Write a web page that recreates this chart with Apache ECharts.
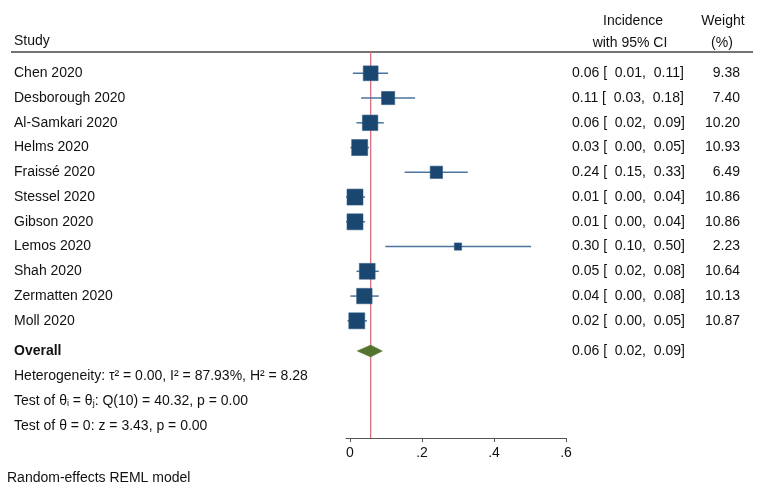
<!DOCTYPE html>
<html><head><meta charset="utf-8">
<script src="https://cdn.jsdelivr.net/npm/echarts@6/dist/echarts.min.js"></script>
<style>html,body{margin:0;padding:0;background:#fff}#c{width:764px;height:491px}</style>
</head><body><div id="c"></div>
<script>
const studies = ['Chen 2020','Desborough 2020','Al-Samkari 2020','Helms 2020','Fraissé 2020','Stessel 2020','Gibson 2020','Lemos 2020','Shah 2020','Zermatten 2020','Moll 2020'];
const estimates = [0.0575, 0.106, 0.056, 0.027, 0.24, 0.014, 0.014, 0.30, 0.048, 0.040, 0.019];
const ciLow = [0.008, 0.031, 0.018, 0.001, 0.152, -0.011, -0.011, 0.098, 0.018, 0.001, -0.007];
const ciHigh = [0.106, 0.181, 0.094, 0.053, 0.327, 0.042, 0.042, 0.503, 0.080, 0.080, 0.047];
const weights = [9.38, 7.40, 10.20, 10.93, 6.49, 10.86, 10.86, 2.23, 10.64, 10.13, 10.87];
const ciText = ['0.06 [  0.01,  0.11]','0.11 [  0.03,  0.18]','0.06 [  0.02,  0.09]','0.03 [  0.00,  0.05]','0.24 [  0.15,  0.33]','0.01 [  0.00,  0.04]','0.01 [  0.00,  0.04]','0.30 [  0.10,  0.50]','0.05 [  0.02,  0.08]','0.04 [  0.00,  0.08]','0.02 [  0.00,  0.05]'];
const weightText = ['9.38','7.40','10.20','10.93','6.49','10.86','10.86','2.23','10.64','10.13','10.87'];
const overallEst = 0.0575;
const overallLow = 0.02;
const overallHigh = 0.09;
const overallText = '0.06 [  0.02,  0.09]';
const xTicks = [0, 0.2, 0.4, 0.6];
const xTickLabels = ['0', '.2', '.4', '.6'];
const statLines = [
  '{n|Heterogeneity: τ² = 0.00, I² = 87.93%, H² = 8.28}',
  '{n|Test of θ}{s|i}{n| = θ}{s|j}{n|: Q(10) = 40.32, p = 0.00}',
  '{n|Test of θ = 0: z = 3.43, p = 0.00}'
];
const footnote = 'Random-effects REML model';

const FONT = '"Liberation Sans", Arial, Helvetica, sans-serif';
const TXT = '#111';
const chart = echarts.init(document.getElementById('c'), null, {renderer: 'canvas'});

const overallRow = 12.22;
const studyData = studies.map((s, i) => [estimates[i], ciLow[i], ciHigh[i], i + 1, weights[i]]);

chart.setOption({
  animation: false,
  backgroundColor: '#fff',
  grid: {left: 346, right: 198, top: 52, bottom: 53},
  xAxis: {
    type: 'value', min: -0.011, max: 0.6,
    splitLine: {show: false},
    axisLine: {show: true, lineStyle: {color: '#555', width: 1}},
    axisTick: {show: true, customValues: xTicks, length: 4, lineStyle: {color: '#555'}},
    axisLabel: {customValues: xTicks, color: TXT, fontFamily: FONT, fontSize: 14, margin: 8,
      formatter: v => { const k = xTicks.findIndex(t => Math.abs(t - v) < 1e-9); return k >= 0 ? xTickLabels[k] : ''; }}
  },
  yAxis: {type: 'value', inverse: true, min: 0.139, max: 15.735, show: false},
  series: [
    {
      type: 'custom', data: [[overallEst]], encode: {x: 0},
      renderItem: (params, api) => {
        const cs = params.coordSys;
        const x = api.coord([api.value(0), 1])[0];
        return {type: 'line', shape: {x1: x, y1: cs.y, x2: x, y2: cs.y + cs.height},
          style: {stroke: '#d9707f', lineWidth: 1.3}};
      }
    },
    {
      type: 'custom', data: studyData, encode: {x: [0, 1, 2], y: 3},
      renderItem: (params, api) => {
        const y = api.value(3);
        const c = api.coord([api.value(0), y]);
        const lo = api.coord([api.value(1), y]);
        const hi = api.coord([api.value(2), y]);
        const side = 4.84 * Math.sqrt(api.value(4));
        return {type: 'group', children: [
          {type: 'line', shape: {x1: lo[0], y1: lo[1], x2: hi[0], y2: hi[1]}, style: {stroke: '#4b74a0', lineWidth: 1.5}},
          {type: 'rect', shape: {x: c[0] - side / 2, y: c[1] - side / 2, width: side, height: side},
            style: {fill: '#1a476f', stroke: '#2f5a85', lineWidth: 0.6}}
        ]};
      }
    },
    {
      type: 'custom', data: [[overallEst, overallLow, overallHigh, overallRow]], encode: {x: [0, 1, 2], y: 3},
      renderItem: (params, api) => {
        const y = api.value(3);
        const c = api.coord([api.value(0), y]);
        const lo = api.coord([api.value(1), y]);
        const hi = api.coord([api.value(2), y]);
        const h = 6;
        return {type: 'polygon', shape: {points: [[lo[0], c[1]], [c[0], c[1] - h], [hi[0], c[1]], [c[0], c[1] + h]]},
          style: {fill: '#55752f', stroke: '#5d7d35', lineWidth: 0.5}};
      }
    }
  ]
});

function txt(x, y, text, opts) {
  return Object.assign({type: 'text', x: x, y: y, silent: true,
    style: Object.assign({text: text, fill: TXT, font: '14px ' + FONT, textVerticalAlign: 'middle', verticalAlign: 'middle'}, opts || {})});
}

const g = [];
g.push({type: 'line', shape: {x1: 11, y1: 52, x2: 753, y2: 52}, style: {stroke: '#444', lineWidth: 1.5}, silent: true});
g.push(txt(14, 41, 'Study'));
g.push(txt(633, 21, 'Incidence', {align: 'center'}));
g.push(txt(630, 43, 'with 95% CI', {align: 'center'}));
g.push(txt(723, 21, 'Weight', {align: 'center'}));
g.push(txt(722, 43, '(%)', {align: 'center'}));

studies.forEach((s, i) => {
  const y = chart.convertToPixel({gridIndex: 0}, [0, i + 1])[1];
  g.push(txt(14, y, s));
  g.push(txt(572, y, ciText[i]));
  g.push(txt(740, y, weightText[i], {align: 'right'}));
});
const yo = chart.convertToPixel({gridIndex: 0}, [0, overallRow])[1];
g.push(txt(14, yo, 'Overall', {font: 'bold 14px ' + FONT}));
g.push(txt(572, yo, overallText));

const statY = [376, 401, 426];
statLines.forEach((t, k) => {
  g.push({type: 'text', x: 14, y: statY[k], silent: true, style: {
    text: t, verticalAlign: 'middle',
    rich: {
      n: {fontSize: 14, fontFamily: FONT, color: TXT, fill: TXT, lineHeight: 15},
      s: {fontSize: 9, fontFamily: FONT, color: TXT, fill: TXT, lineHeight: 9, verticalAlign: 'bottom'}
    }
  }});
});
g.push(txt(7, 478, footnote));

chart.setOption({graphic: g});
</script></body></html>
